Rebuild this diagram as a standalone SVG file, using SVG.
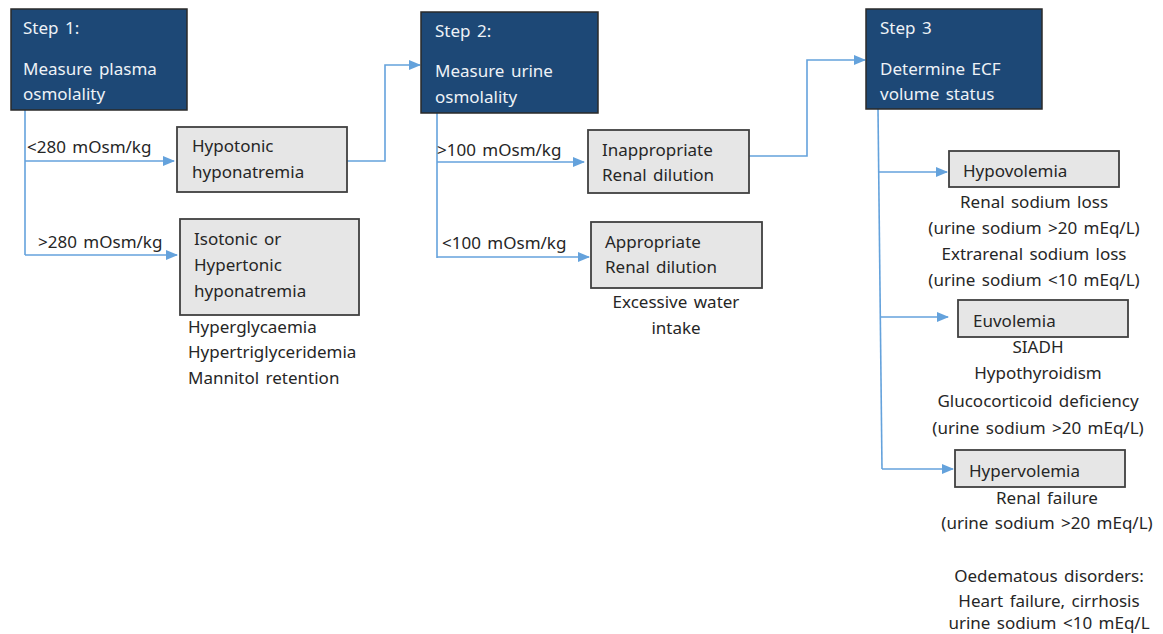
<svg xmlns="http://www.w3.org/2000/svg" width="1163" height="634" viewBox="0 0 1163 634">
<style>
text{font-family:"Noto Sans","Open Sans","DejaVu Sans",sans-serif;font-size:17px;word-spacing:2px;fill:#262626}
.step rect{fill:#1d4876;stroke:#2a2a2a;stroke-width:1.5}
.step text{fill:#eef2f7}
.box rect{fill:#e6e6e6;stroke:#404040;stroke-width:1.8}
.c{text-anchor:middle}
#connectors path{fill:none;stroke:#64a2dc;stroke-width:1.6}
</style>
<defs>
<marker id="ah" markerWidth="12" markerHeight="10" refX="11" refY="5" orient="auto" markerUnits="userSpaceOnUse">
<path d="M0,0 L12,5 L0,10 Z" fill="#64a2dc"/>
</marker>
</defs>
<rect width="1163" height="634" fill="#ffffff"/>
<g id="connectors">
<path d="M25,110 V255"/>
<path d="M25,161 H174" marker-end="url(#ah)"/>
<path d="M25,255 H177" marker-end="url(#ah)"/>
<path d="M347,161 H385 V65 H420" marker-end="url(#ah)"/>
<path d="M437,113 V258"/>
<path d="M437,162 H584" marker-end="url(#ah)"/>
<path d="M437,257 H589" marker-end="url(#ah)"/>
<path d="M749,156 H807 V60 H865" marker-end="url(#ah)"/>
<path d="M878,109 L882,469"/>
<path d="M879,172 H947" marker-end="url(#ah)"/>
<path d="M880,317 H948" marker-end="url(#ah)"/>
<path d="M882,469 H953" marker-end="url(#ah)"/>
</g>
<g id="step1" class="step">
<rect x="11" y="9" width="176" height="101"/>
<text x="23" y="34">Step 1:</text>
<text x="23" y="75">Measure plasma</text>
<text x="23" y="100">osmolality</text>
</g>
<g id="step2" class="step">
<rect x="421" y="12" width="177" height="101"/>
<text x="435" y="37">Step 2:</text>
<text x="435" y="77">Measure urine</text>
<text x="435" y="103">osmolality</text>
</g>
<g id="step3" class="step">
<rect x="866" y="9" width="176" height="100"/>
<text x="880" y="34">Step 3</text>
<text x="880" y="75">Determine ECF</text>
<text x="880" y="100">volume status</text>
</g>
<g id="labels">
<text x="27" y="153">&lt;280 mOsm/kg</text>
<text x="38" y="248">&gt;280 mOsm/kg</text>
<text x="437" y="156">&gt;100 mOsm/kg</text>
<text x="442" y="249">&lt;100 mOsm/kg</text>
</g>
<g id="hypotonic" class="box">
<rect x="177" y="127" width="170" height="65"/>
<text x="192" y="152">Hypotonic</text>
<text x="192" y="178">hyponatremia</text>
</g>
<g id="isotonic" class="box">
<rect x="180" y="219" width="179" height="96"/>
<text x="194" y="245">Isotonic or</text>
<text x="194" y="271">Hypertonic</text>
<text x="194" y="297">hyponatremia</text>
<text x="188" y="333">Hyperglycaemia</text>
<text x="188" y="358">Hypertriglyceridemia</text>
<text x="188" y="384">Mannitol retention</text>
</g>
<g id="inappropriate" class="box">
<rect x="588" y="130" width="161" height="63"/>
<text x="602" y="156">Inappropriate</text>
<text x="602" y="181">Renal dilution</text>
</g>
<g id="appropriate" class="box">
<rect x="591" y="222" width="171" height="66"/>
<text x="605" y="248">Appropriate</text>
<text x="605" y="273">Renal dilution</text>
<text class="c" x="676" y="308">Excessive water</text>
<text class="c" x="676" y="334">intake</text>
</g>
<g id="hypovolemia" class="box">
<rect x="949" y="151" width="170" height="36"/>
<text x="963" y="177">Hypovolemia</text>
<text class="c" x="1034" y="208">Renal sodium loss</text>
<text class="c" x="1034" y="234">(urine sodium &gt;20 mEq/L)</text>
<text class="c" x="1034" y="260">Extrarenal sodium loss</text>
<text class="c" x="1034" y="286">(urine sodium &lt;10 mEq/L)</text>
</g>
<g id="euvolemia" class="box">
<rect x="958" y="300" width="170" height="37"/>
<text x="973" y="327">Euvolemia</text>
<text class="c" x="1038" y="353">SIADH</text>
<text class="c" x="1038" y="379">Hypothyroidism</text>
<text class="c" x="1038" y="407">Glucocorticoid deficiency</text>
<text class="c" x="1038" y="434">(urine sodium &gt;20 mEq/L)</text>
</g>
<g id="hypervolemia" class="box">
<rect x="955" y="450" width="170" height="37"/>
<text x="969" y="477">Hypervolemia</text>
<text class="c" x="1047" y="504">Renal failure</text>
<text class="c" x="1047" y="529">(urine sodium &gt;20 mEq/L)</text>
<text class="c" x="1049" y="582">Oedematous disorders:</text>
<text class="c" x="1049" y="607">Heart failure, cirrhosis</text>
<text class="c" x="1049" y="629">urine sodium &lt;10 mEq/L</text>
</g>
</svg>
